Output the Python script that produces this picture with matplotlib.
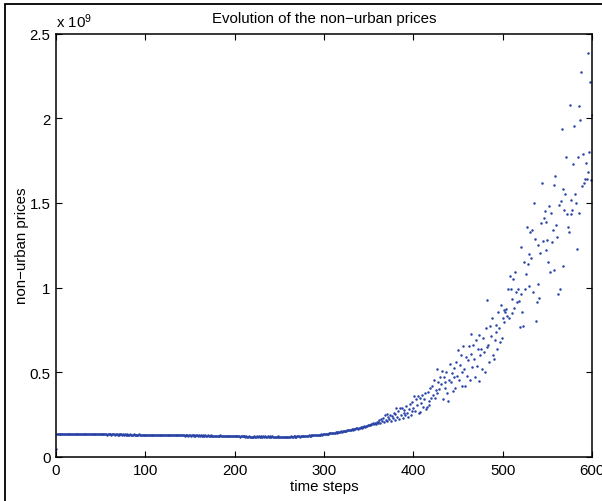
import numpy as np
import matplotlib
matplotlib.use("Agg")
import matplotlib.pyplot as plt
from matplotlib.patches import Rectangle

plt.rcParams['font.family'] = ['Liberation Sans', 'DejaVu Sans']
plt.rcParams['mathtext.fontset'] = 'custom'
plt.rcParams['mathtext.rm'] = 'Liberation Sans'
plt.rcParams['mathtext.default'] = 'regular'

# non-urban prices (units of 1e9), one value per time step starting at t = 0
prices_start = [0.047]
prices_flat = [
    0.136,0.137,0.135,0.136,0.137,0.136,0.135,0.136,0.137,0.136,
    0.135,0.136,0.137,0.135,0.136,0.136,0.137,0.135,0.136,0.135,
    0.136,0.135,0.137,0.136,0.135,0.136,0.134,0.136,0.135,0.136,
    0.135,0.134,0.136,0.135,0.134,0.135,0.136,0.134,0.135,0.134,
    0.135,0.134,0.133,0.135,0.134,0.135,0.133,0.134,0.135,0.133,
    0.134,0.133,0.135,0.134,0.133,0.134,0.132,0.134,0.133,0.134,
    0.133,0.132,0.134,0.133,0.134,0.132,0.133,0.134,0.132,0.133,
    0.132,0.134,0.133,0.131,0.133,0.132,0.134,0.132,0.131,0.133,
    0.132,0.131,0.133,0.132,0.130,0.132,0.133,0.131,0.132,0.130,
    0.132,0.131,0.133,0.130,0.132,0.131,0.130,0.132,0.131,0.130,
    0.131,0.130,0.132,0.129,0.131,0.130,0.132,0.129,0.131,0.130,
    0.129,0.131,0.130,0.128,0.130,0.131,0.129,0.130,0.128,0.130,
    0.129,0.130,0.128,0.130,0.129,0.127,0.129,0.130,0.128,0.129,
    0.128,0.129,0.127,0.129,0.128,0.130,0.127,0.128,0.129,0.127,
    0.128,0.127,0.129,0.126,0.128,0.127,0.129,0.126,0.128,0.127,
    0.126,0.128,0.127,0.125,0.128,0.126,0.127,0.128,0.125,0.127,
    0.126,0.128,0.125,0.127,0.126,0.124,0.127,0.126,0.125,0.127,
    0.125,0.126,0.124,0.127,0.125,0.126,0.124,0.126,0.125,0.123,
    0.126,0.124,0.125,0.127,0.123,0.125,0.124,0.126,0.123,0.125,
    0.124,0.126,0.123,0.125,0.124,0.122,0.125,0.124,0.126,0.123,
    0.124,0.122,0.125,0.123,0.124,0.121,0.123,0.125,0.122,0.124,
    0.122,0.120,0.123,0.121,0.119,0.122,0.120,0.118,0.121,0.119,
    0.120,0.122,0.119,0.121,0.123,0.120,0.122,0.121,0.119,0.122,
    0.121,0.123,0.120,0.122,0.121,0.119,0.122,0.120,0.123,0.121,
    0.120,0.122,0.119,0.121,0.120,0.118,0.121,0.119,0.122,0.120,
    0.119,0.121,0.118,0.120,0.117,0.119,0.121,0.118,0.120,0.119,
    0.121,0.120,0.122,0.119,0.121,0.123,0.120,0.122,0.121,0.123,
    0.122,0.124,0.121,0.123,0.125,0.122,0.124,0.123,0.125,0.124,
    0.126,0.124,0.127,0.125,0.127,0.126,0.128,0.127,0.129,0.128,
    0.130,0.129,0.131,0.130,0.132,0.131,0.133,0.132,0.134,0.135,
    0.136,0.135,0.137,0.138,0.137,0.139,0.140,0.139,0.141,0.142,
    0.143,0.142,0.145,0.144,0.146,0.148,0.147,0.149,0.151,0.150,
]
prices_rise = [
    0.152,0.154,0.153,0.156,0.155,0.158,0.157,0.160,0.162,0.159,
    0.163,0.165,0.162,0.167,0.166,0.169,0.171,0.168,0.173,0.172,
    0.176,0.174,0.179,0.177,0.182,0.180,0.185,0.183,0.188,0.186,
    0.191,0.187,0.195,0.192,0.198,0.193,0.202,0.197,0.206,0.200,
    0.205,0.218,0.200,0.225,0.212,0.232,0.206,0.245,0.219,0.254,
    0.215,0.238,0.222,0.250,0.212,0.243,0.228,0.262,0.218,0.255,
    0.290,0.235,0.270,0.225,0.288,0.248,0.292,0.232,0.276,0.258,
    0.245,0.300,0.262,0.238,0.285,0.310,0.250,0.273,0.325,0.290,
    0.362,0.270,0.340,0.305,0.360,0.258,0.267,0.350,0.318,0.365,
    0.295,0.342,0.378,0.282,0.295,0.385,0.330,0.305,0.410,0.348,
]
prices_scatter = [
    0.420,0.365,0.455,0.350,0.395,0.520,0.380,0.445,0.400,0.470,
    0.430,0.505,0.340,0.475,0.410,0.445,0.500,0.380,0.330,0.455,
    0.550,0.440,0.495,0.390,0.470,0.525,0.410,0.560,0.480,0.630,
    0.455,0.545,0.600,0.500,0.420,0.657,0.520,0.420,0.590,0.480,
    0.570,0.655,0.455,0.610,0.726,0.530,0.660,0.580,0.470,0.690,
    0.540,0.640,0.720,0.450,0.600,0.640,0.520,0.700,0.620,0.500,
    0.760,0.927,0.650,0.660,0.560,0.775,0.716,0.820,0.600,0.580,
    0.690,0.780,0.736,0.640,0.854,0.760,0.680,0.900,0.700,0.820,
    0.870,0.795,0.854,0.874,0.834,0.990,0.820,1.070,0.990,0.848,
    0.930,1.050,0.880,1.094,0.972,0.913,0.990,0.920,0.770,1.240,
    0.962,0.858,0.775,1.150,0.990,1.080,1.360,1.140,1.010,1.200,
    1.330,1.173,1.340,0.976,1.500,1.287,0.800,0.917,1.250,1.020,
    0.937,1.204,1.380,1.616,1.277,1.410,1.450,1.224,1.390,1.280,
    1.153,1.484,1.090,1.440,1.267,1.340,1.104,1.606,1.660,1.370,
    1.300,0.962,1.490,0.990,1.510,1.936,1.580,1.126,1.460,1.550,
    1.770,1.434,1.356,1.330,2.078,1.520,1.434,1.460,1.730,1.956,
    1.550,1.500,1.230,1.770,2.070,1.440,1.990,2.270,1.600,1.790,
    1.617,1.640,1.735,1.640,1.680,2.385,1.800,2.215,1.637,2.020,
]
prices = np.array(prices_start + prices_flat + prices_rise + prices_scatter)
time_steps = np.arange(len(prices))

xticks = [0, 100, 200, 300, 400, 500, 600]
yticks = [0, 0.5, 1, 1.5, 2, 2.5]
yticklabels = ['0', '0.5', '1', '1.5', '2', '2.5']

W, H = 602, 502
fig = plt.figure(figsize=(W / 100, H / 100), dpi=100)
ax = fig.add_axes([56 / W, (H - 458) / H, (592 - 56) / W, (458 - 34.5) / H])

ax.plot(time_steps, prices, '.', color='#2a44a6', ms=3.6, mew=0)

ax.set_xlim(0, 600)
ax.set_ylim(0, 2.5)
ax.set_xticks(xticks)
ax.set_yticks(yticks)
ax.set_yticklabels(yticklabels)
ax.tick_params(direction='in', length=4, width=0.8, top=True, right=True,
               labelsize=10.8, pad=4, colors='black')
for s in ax.spines.values():
    s.set_linewidth(1.1)
    s.set_color('black')

ax.set_title('Evolution of the non\u2212urban prices', fontsize=10.8, pad=8)
ax.set_xlabel('time steps', fontsize=10.8, labelpad=2)
ax.set_ylabel('non\u2212urban prices', fontsize=10.8, labelpad=0)
ax.text(0.0, 1.008, r'x 10$^{9}$', transform=ax.transAxes, fontsize=10.8,
        ha='left', va='bottom')

fig.add_artist(Rectangle((4.5 / W, -0.1), 2.0, (H - 4.5) / H + 0.1,
                         transform=fig.transFigure, fill=False,
                         edgecolor='black', lw=1.3, clip_on=False))

fig.savefig('out.png', dpi=100)
